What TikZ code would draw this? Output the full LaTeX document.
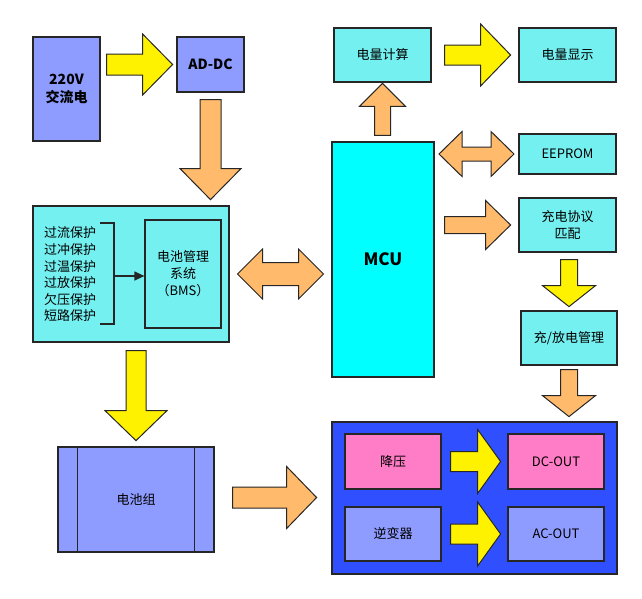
\documentclass[tikz,border=0pt]{standalone}
\usepackage{fontspec}
\setmainfont{Noto Sans CJK SC}
\usetikzlibrary{calc,arrows.meta}
\definecolor{peri}{RGB}{143,156,255}
\definecolor{lcyan}{RGB}{117,240,240}
\definecolor{mcucyan}{RGB}{0,255,255}
\definecolor{deepblue}{RGB}{48,80,255}
\definecolor{pinkbox}{RGB}{255,124,198}
\definecolor{arryel}{RGB}{255,242,0}
\definecolor{arrorg}{RGB}{255,186,107}
% block arrows: fill, tail, length, shaft half, head half, head length
\newcommand{\harr}[6]{%
  \filldraw[fat,fill=#1] #2 ++(0,-#4) -- ++({#3-#6},0) -- ++(0,{#4-#5}) -- ++(#6,#5)
    -- ++(-#6,#5) -- ++(0,{#4-#5}) -- ++({#6-#3},0) -- cycle;}
\newcommand{\varr}[6]{%
  \filldraw[fat,fill=#1] #2 ++(-#4,0) -- ++(0,{#3-#6}) -- ++({#4-#5},0) -- ++(#5,#6)
    -- ++(#5,-#6) -- ++({#4-#5},0) -- ++(0,{#6-#3}) -- cycle;}
% double arrow: centre, length, shaft half, head half, head length
\newcommand{\dharr}[5]{%
  \filldraw[fat,fill=arrorg] #1 ++({-#2/2},0) -- ++(#5,-#4) -- ++(0,{#4-#3}) -- ++({#2-2*#5},0)
    -- ++(0,{#3-#4}) -- ++(#5,#4) -- ++(-#5,#4) -- ++(0,{#3-#4}) -- ++({2*#5-#2},0)
    -- ++(0,{#4-#3}) -- cycle;}
\begin{document}
\begin{tikzpicture}[x=1pt,y=-1pt,
    box/.style={draw=black!85,line width=1.2pt,inner sep=0pt,align=center,
      minimum width=97pt,minimum height=54pt,font=\fontsize{13}{17}\selectfont},
    bigfont/.style={font=\fontsize{14}{18}\selectfont\bfseries},
    fat/.style={draw=black!85,line width=1pt,line join=miter}]
  \useasboundingbox (0,0) rectangle (642,598);
  % boxes
  \node[box,bigfont,fill=peri,minimum width=67pt,minimum height=104pt] (ac) at (66.5,89) {220V\\交流电};
  \node[box,bigfont,fill=peri,minimum width=67pt,minimum height=55pt] (addc) at (210.5,64.5) {AD-DC};
  \node[box,fill=lcyan,minimum width=196pt,minimum height=136pt] (bms) at (131,274) {};
  \node[box,fill=lcyan,minimum width=76pt,minimum height=108pt] (bmsin) at (183,274) {电池管理\\系统\\（BMS）};
  \node[align=left,inner sep=0pt,font=\fontsize{13}{16.6}\selectfont] (prot) at (70,274.5)
       {过流保护\\过冲保护\\过温保护\\过放保护\\欠压保护\\短路保护};
  \node[box,fill=lcyan] (calc) at (382.5,55) {电量计算};
  \node[box,fill=lcyan] (disp) at (567.5,55) {电量显示};
  \node[box,fill=mcucyan,minimum width=102pt,minimum height=235pt,font=\fontsize{17}{20}\selectfont\bfseries] (mcu) at (383,259.5) {MCU};
  \node[box,fill=lcyan,minimum height=40pt] (eeprom) at (567.5,154) {EEPROM};
  \node[box,fill=lcyan] (proto) at (567.5,225) {充电协议\\匹配};
  \node[box,fill=lcyan,minimum width=96pt] (chg) at (569,338) {充/放电管理};
  \node[box,fill=peri,minimum width=156pt,minimum height=105pt] (batt) at (136,499.5) {电池组};
  \node[box,fill=deepblue,minimum width=285pt,minimum height=152pt] (out) at (474.5,498) {};
  \node[box,fill=pinkbox,minimum width=96pt,minimum height=55pt] (buck) at (393,461.5) {降压};
  \node[box,fill=peri,minimum width=96pt] (inv) at (393,534) {逆变器};
  \node[box,fill=pinkbox,minimum width=96pt,minimum height=55pt] (dcout) at (556,461.5) {DC-OUT};
  \node[box,fill=peri,minimum width=96pt] (acout) at (556,534) {AC-OUT};
  \draw[line width=1.2pt,draw=black!85] ($(batt.north west)+(20,0)$) -- ($(batt.south west)+(20,0)$);
  \draw[line width=1.2pt,draw=black!85] ($(batt.north east)+(-20,0)$) -- ($(batt.south east)+(-20,0)$);
  % bracket
  \coordinate (br) at (114,276);
  \draw[line width=1.2pt,draw=black!85] (100,223) -- (114,223) -- (114,324) -- (100,324);
  \draw[-{Triangle[length=10pt,width=9pt]},line width=1.2pt,draw=black!85] (br) -- (br -| bmsin.west);
  % block arrows
  \harr{arryel}{($(ac.east |- addc.west)+(6,0)$)}{66}{10.5}{30.5}{30}
  \varr{arrorg}{($(addc.south)+(0,7)$)}{100}{10.5}{30.5}{31}
  \harr{arryel}{($(calc.east)+(13,0)$)}{66}{10}{31}{30}
  \varr{arrorg}{($(calc.south |- mcu.north)+(0,-6)$)}{-52}{8}{23}{-23}
  \dharr{($(mcu.east |- eeprom.west)!0.5!(eeprom.west)$)}{75}{7}{22.5}{23}
  \dharr{($(bms.east)!0.5!(mcu.west |- bms.east)$)}{86}{11.5}{25}{25}
  \harr{arrorg}{($(mcu.east |- proto.west)+(10,0)$)}{66}{8.5}{24.5}{25}
  \varr{arryel}{($(chg.north |- proto.south)+(0,7)$)}{47}{8.5}{26.5}{21}
  \varr{arrorg}{($(chg.south)+(0,4)$)}{47}{8.5}{26.5}{21}
  \varr{arryel}{($(batt.north |- bms.south)+(0,8)$)}{90}{10}{31}{30}
  \harr{arrorg}{($(batt.east)+(18,-2)$)}{84}{10.5}{31}{30}
  \harr{arryel}{($(buck.east)+(9,0)$)}{50}{10}{32}{23}
  \harr{arryel}{($(inv.east)+(9,0)$)}{50}{10}{32}{23}
\end{tikzpicture}
\end{document}
